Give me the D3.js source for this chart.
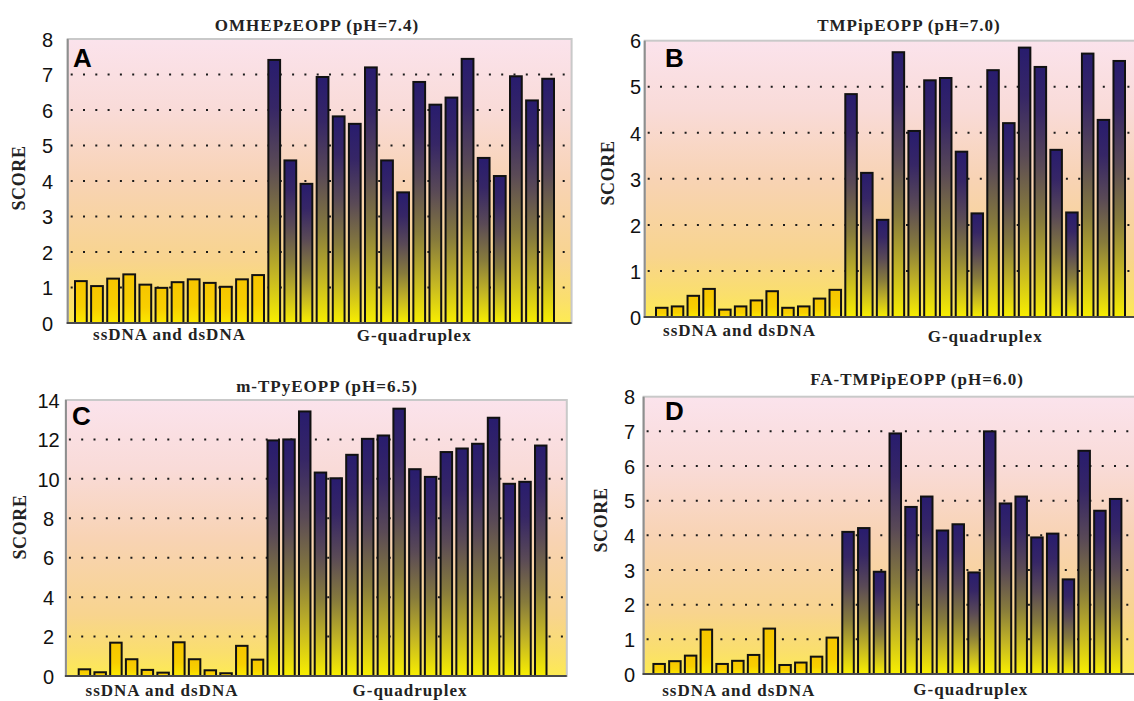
<!DOCTYPE html>
<html><head><meta charset="utf-8">
<script src="https://cdn.jsdelivr.net/npm/d3@7"></script>
<style>
html,body{margin:0;padding:0;background:#fff;}
svg{display:block;}
</style></head>
<body>
<svg id="chart" width="1134" height="701"></svg>
<script>
// ---------- DATA ----------
const groupLabels = ["ssDNA and dsDNA", "G-quadruplex"];
const dnaIds = d3.range(1, 13).map(i => "DNA" + i);
const g4Ids = d3.range(1, 19).map(i => "G4-" + i);

const titles = ["OMHEPzEOPP (pH=7.4)", "TMPipEOPP (pH=7.0)", "m-TPyEOPP (pH=6.5)", "FA-TMPipEOPP (pH=6.0)"];
const panelLetters = ["A", "B", "C", "D"];
const yLabel = "SCORE";

const dnaA = [1.18,1.04,1.25,1.37,1.08,0.99,1.15,1.23,1.13,1.02,1.23,1.35];
const g4A  = [7.41,4.58,3.92,6.93,5.82,5.61,7.20,4.58,3.68,6.79,6.15,6.35,7.44,4.65,4.14,6.95,6.27,6.88];
const dnaB = [0.20,0.23,0.46,0.61,0.16,0.23,0.36,0.56,0.20,0.23,0.40,0.59];
const g4B  = [4.84,3.13,2.11,5.75,4.04,5.14,5.19,3.59,2.25,5.36,4.21,5.85,5.43,3.63,2.27,5.72,4.28,5.56];
const dnaC = [0.34,0.19,1.69,0.85,0.31,0.17,1.71,0.85,0.29,0.14,1.53,0.83];
const g4C  = [11.95,12.00,13.42,10.32,10.03,11.22,12.03,12.20,13.56,10.49,10.10,11.36,11.54,11.78,13.10,9.75,9.85,11.69];
const dnaD = [0.29,0.37,0.53,1.28,0.29,0.38,0.55,1.31,0.26,0.33,0.50,1.05];
const g4D  = [4.10,4.21,2.95,6.94,4.82,5.12,4.14,4.32,2.93,7.00,4.92,5.12,3.94,4.05,2.73,6.44,4.71,5.05];

const ticksA = [0,1,2,3,4,5,6,7,8];
const ticksB = [0,1,2,3,4,5,6];
const ticksC = [0,2,4,6,8,10,12,14];
const ticksD = [0,1,2,3,4,5,6,7,8];

// ---------- LAYOUT ----------
const layout = [
  {dna: dnaA, g4: g4A, ticks: ticksA, px0: 67.7, px1: 571.6, py0: 39, py1: 323, bx0: 75, bx1: 554,
   titleX: 317, titleY: 31, letX: 73, letY: 67, tickX: 47.5, scoreX: 18.5, scoreY: 178, labY: [340, 341], labDx: [0, 3]},
  {dna: dnaB, g4: g4B, ticks: ticksB, px0: 644.7, px1: 1137, py0: 40.7, py1: 317, bx0: 656, bx1: 1125,
   titleX: 909, titleY: 31, letX: 665, letY: 67, tickX: 635.5, scoreX: 608, scoreY: 173, labY: [336, 342], labDx: [-9, 0]},
  {dna: dnaC, g4: g4C, ticks: ticksC, px0: 65.9, px1: 566.8, py0: 400, py1: 676, bx0: 78.7, bx1: 546.5,
   titleX: 327, titleY: 392, letX: 72, letY: 425, tickX: 48.5, scoreX: 20, scoreY: 527, labY: [696, 696], labDx: [-9, 3]},
  {dna: dnaD, g4: g4D, ticks: ticksD, px0: 643.6, px1: 1137, py0: 396.7, py1: 674, bx0: 653.4, bx1: 1121.4,
   titleX: 917, titleY: 385, letX: 665, letY: 420, tickX: 629.5, scoreX: 601, scoreY: 520, labY: [696, 695], labDx: [-7, -11]}
];

const svg = d3.select("#chart");
const defs = svg.append("defs");

const bg = defs.append("linearGradient").attr("id", "bgGrad")
  .attr("x1", 0).attr("y1", 0).attr("x2", 0).attr("y2", 1);
[[0, "#fbe3ec"], [0.25, "#f9dbd8"], [0.5, "#f8d3b4"], [0.78, "#f8d48e"], [0.92, "#fadf6c"], [1, "#fdeb52"]]
  .forEach(([o, c]) => bg.append("stop").attr("offset", o).attr("stop-color", c));

const blueG = defs.append("linearGradient").attr("id", "g4Grad")
  .attr("x1", 0).attr("y1", 0).attr("x2", 0).attr("y2", 1);
[[0, "#281c6e"], [0.18, "#362666"], [0.4, "#5a4a56"], [0.62, "#877b3c"], [0.82, "#c4b624"], [1, "#f8ee00"]]
  .forEach(([o, c]) => blueG.append("stop").attr("offset", o).attr("stop-color", c));

const yelG = defs.append("linearGradient").attr("id", "dnaGrad")
  .attr("x1", 0).attr("y1", 0).attr("x2", 0).attr("y2", 1);
[[0, "#f6c500"], [0.6, "#f8cf00"], [1, "#fbe800"]]
  .forEach(([o, c]) => yelG.append("stop").attr("offset", o).attr("stop-color", c));

const serif = "'Liberation Serif','Times New Roman',serif";
const sans = "'Liberation Sans',Arial,sans-serif";

layout.forEach((p, i) => {
  const g = svg.append("g");
  const ids = dnaIds.concat(g4Ids);
  const vals = p.dna.concat(p.g4);
  const yMax = p.ticks[p.ticks.length - 1];

  const x = d3.scaleBand().domain(ids).range([p.bx0, p.bx1]).paddingInner(0.27).paddingOuter(0);
  const y = d3.scaleLinear().domain([0, yMax]).range([p.py1, p.py0]);

  // plot background
  g.append("rect").attr("x", p.px0).attr("y", p.py0)
    .attr("width", p.px1 - p.px0).attr("height", p.py1 - p.py0)
    .attr("fill", "url(#bgGrad)").attr("stroke", "#c9c9c9").attr("stroke-width", 2);

  // dotted gridlines
  g.append("g").selectAll("line").data(p.ticks.slice(1, -1)).join("line")
    .attr("x1", p.px0 + 3).attr("x2", p.px1 - 2)
    .attr("y1", d => y(d)).attr("y2", d => y(d))
    .attr("stroke", "#1a1a1a").attr("stroke-width", 2)
    .attr("stroke-dasharray", "2 10.3");

  // bars
  g.append("g").selectAll("rect").data(ids).join("rect")
    .attr("x", d => x(d)).attr("width", x.bandwidth())
    .attr("y", (d, k) => y(vals[k]))
    .attr("height", (d, k) => y(0) - y(vals[k]))
    .attr("fill", (d, k) => k < p.dna.length ? "url(#dnaGrad)" : "url(#g4Grad)")
    .attr("stroke", "#111").attr("stroke-width", 2);

  // axes lines
  g.append("line").attr("x1", p.px0).attr("x2", p.px0).attr("y1", p.py0).attr("y2", p.py1 + 1)
    .attr("stroke", "#8e8e8e").attr("stroke-width", 2);
  g.append("line").attr("x1", p.px0 - 1).attr("x2", p.px1).attr("y1", p.py1).attr("y2", p.py1)
    .attr("stroke", "#4a4a4a").attr("stroke-width", 2);

  // y axis labels via d3 axis
  const ax = g.append("g").attr("transform", `translate(${p.px0},0)`)
    .call(d3.axisLeft(y).tickValues(p.ticks).tickSize(0).tickFormat(d3.format("d")));
  ax.select(".domain").remove();
  ax.selectAll("text").attr("x", p.tickX - p.px0).attr("text-anchor", "middle")
    .attr("dy", "0.36em")
    .style("font-family", sans).style("font-size", "20px").attr("fill", "#111");

  // title
  g.append("text").attr("x", p.titleX).attr("y", p.titleY).attr("text-anchor", "middle")
    .style("font-family", serif).style("font-weight", "bold").style("font-size", "17px")
    .style("letter-spacing", "1px").attr("fill", "#222").text(titles[i]);

  // panel letter
  g.append("text").attr("x", p.letX).attr("y", p.letY)
    .style("font-family", sans).style("font-weight", "bold").style("font-size", "26px")
    .attr("fill", "#000").text(panelLetters[i]);

  // y label
  g.append("text").attr("transform", `translate(${p.scoreX + 6},${p.scoreY}) rotate(-90)`)
    .attr("text-anchor", "middle")
    .style("font-family", serif).style("font-weight", "bold").style("font-size", "18px")
    .style("letter-spacing", "0.6px").attr("fill", "#222").text(yLabel);

  // group labels under bars
  const groups = [dnaIds, g4Ids];
  groups.forEach((grp, j) => {
    const cx = (x(grp[0]) + x(grp[grp.length - 1]) + x.bandwidth()) / 2 + p.labDx[j];
    g.append("text").attr("x", cx).attr("y", p.labY[j]).attr("text-anchor", "middle")
      .style("font-family", serif).style("font-weight", "bold").style("font-size", "17px")
      .style("letter-spacing", "1px").attr("fill", "#222").text(groupLabels[j]);
  });
});
</script>
</body></html>
